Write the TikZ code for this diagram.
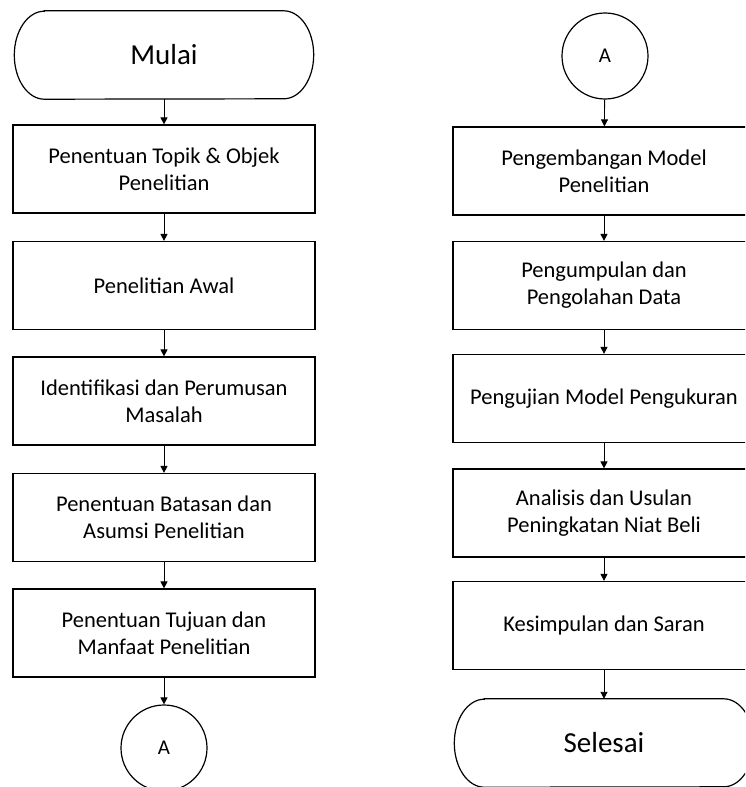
\documentclass[tikz,border=0pt]{standalone}
\usepackage{fontspec}
\setmainfont{Carlito}
\usetikzlibrary{arrows.meta}
\usetikzlibrary{positioning}

\begin{document}
\begin{tikzpicture}[x=1pt,y=-1pt]
  % some styles
  \tikzset{
    proc/.style={
      rectangle,
      minimum width=302pt,
      minimum height=88pt,
      inner sep=0pt,
      align=center,
      font=\fontsize{22.5}{27}\selectfont,
      line width=1.2pt,
      draw
    }
  }
  \tikzset{term/.style={rectangle,minimum width=299pt,minimum height=88pt,inner sep=0pt,font=\fontsize{29}{34}\selectfont}}
  \tikzset{termline/.style={line width=1.2pt}}
  \tikzset{conn/.style={circle,minimum size=86pt,inner sep=0pt,line width=1.2pt,draw,font=\fontsize{21}{25}\selectfont}}
  \tikzset{flow/.style={-{Triangle[length=7pt,width=7pt]},line width=0.9pt}}

  \clip (0,0) rectangle (745,787);

  % left column
  \node[term] (mulai) at (164,55) {Mulai};
  \foreach \txt/\y [count=\i] in {
      {Penentuan Topik \& Objek\\Penelitian}/169,
      {Penelitian Awal}/285.5,
      {Identifikasi dan Perumusan\\Masalah}/401,
      {Penentuan Batasan dan\\Asumsi Penelitian}/517.5,
      {Penentuan Tujuan dan\\Manfaat Penelitian}/633} {
    \node[proc] (l\i) at (164,\y) {\txt};
  }
  \node[conn] (outA) at (164,748) {A};

  % right column
  \node[conn] (inA) at (605,56) {A};
  \foreach \txt/\y [count=\i] in {
      {Pengembangan Model\\Penelitian}/171,
      {Pengumpulan dan\\Pengolahan Data}/285.5,
      {Pengujian Model Pengukuran}/398.5,
      {Analisis dan Usulan\\Peningkatan Niat Beli}/513,
      {Kesimpulan dan Saran}/625.5} {
    \node[proc] (r\i) at (604,\y) {\txt};
  }
  \node[term] (selesai) at (604,743) {Selesai};

  % terminal outlines with elliptic ends
  \foreach \n in {mulai,selesai} {
    \draw[termline] ([xshift=30pt]\n.north west) -- ([xshift=-30pt]\n.north east)
      arc[start angle=90,end angle=-90,x radius=30pt,y radius=44pt]
      -- ([xshift=30pt]\n.south west)
      arc[start angle=270,end angle=90,x radius=30pt,y radius=44pt] -- cycle;
  }

  % arrows
  \draw[flow] (mulai) -- (l1);
  \foreach \i/\j in {1/2,2/3,3/4,4/5} {
    \draw[flow] (l\i) -- (l\j);
    \draw[flow] (r\i) -- (r\j);
  }
  \draw[flow] (l5) -- (outA);
  \draw[flow] (inA) -- (r1);
  \draw[flow] (r5) -- (selesai);

\end{tikzpicture}
\end{document}
